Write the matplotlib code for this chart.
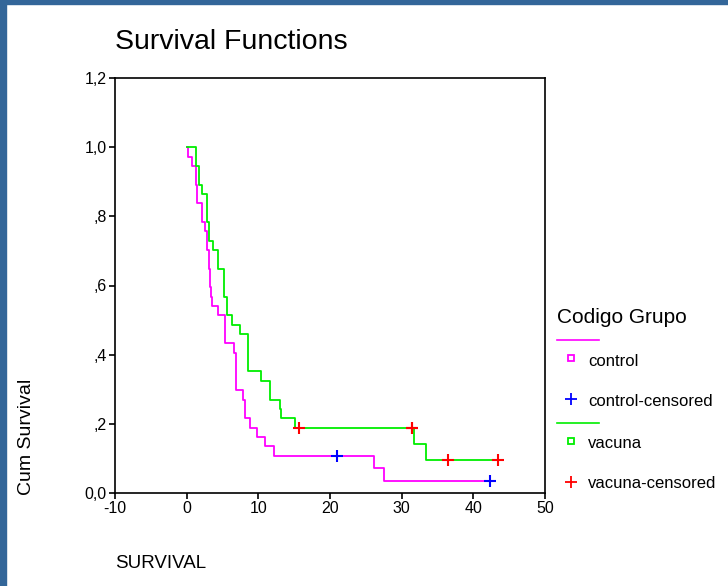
import numpy as np
import matplotlib.pyplot as plt
from matplotlib.lines import Line2D
from matplotlib.patches import Rectangle

plt.rcParams['font.family'] = ['Liberation Sans', 'DejaVu Sans']
plt.rcParams['axes.unicode_minus'] = False

## data: event times (ties repeated), censored times
control_deaths = [0.2, 0.8, 1.3, 1.3, 1.5, 1.5, 2.1, 2.1, 2.5, 2.8, 2.8,
                  3.1, 3.1, 3.3, 3.3, 3.4, 3.5, 4.4, 5.3, 5.3, 5.3, 6.6,
                  6.9, 6.9, 6.9, 6.9, 7.9, 8.2, 8.2, 8.9, 9.8, 10.9, 12.2,
                  26.2, 27.5]
control_censored = [21.0, 42.3]

vacuna_deaths = [1.3, 1.3, 1.7, 1.7, 2.1, 2.8, 2.8, 2.8, 3.1, 3.1, 3.7,
                 4.4, 4.4, 5.2, 5.2, 5.2, 5.6, 5.6, 6.3, 7.4, 8.6, 8.6,
                 8.6, 8.6, 10.4, 11.6, 11.6, 13.0, 13.2, 15.1, 31.7, 33.4]
vacuna_censored = [15.7, 31.5, 31.5, 36.4, 43.4]

x_ticks = [-10, 0, 10, 20, 30, 40, 50]
y_ticks = [0.0, 0.2, 0.4, 0.6, 0.8, 1.0, 1.2]
y_ticklabels = ['0,0', ',2', ',4', ',6', ',8', '1,0', '1,2']


def km(deaths, censored):
    deaths = np.array(deaths)
    censored = np.array(censored)
    n = len(deaths) + len(censored)
    t_out, s_out = [0.0], [1.0]
    s = 1.0
    for t in np.unique(deaths):
        at_risk = n - np.sum(deaths < t) - np.sum(censored < t)
        s *= 1 - np.sum(deaths == t) / at_risk
        t_out.append(t)
        s_out.append(s)
    t_out.append(max(deaths.max(), censored.max()))
    s_out.append(s)
    return np.array(t_out), np.array(s_out)


def surv_at(t_km, s_km, t):
    idx = np.searchsorted(t_km, t, side='right') - 1
    return s_km[idx]


W, H = 728, 586
fx = lambda x: x / W
fy = lambda y: 1 - y / H

fig = plt.figure(figsize=(W / 100, H / 100), dpi=100)
fig.patches.append(Rectangle((0, 0), fx(6), 1, transform=fig.transFigure,
                             color='#336699', zorder=0))
fig.patches.append(Rectangle((0, fy(4)), 1, 4 / H, transform=fig.transFigure,
                             color='#336699', zorder=0))

ax = fig.add_axes([fx(115), fy(493), fx(545) - fx(115), fy(78) - fy(493)])

groups = [
    (control_deaths, control_censored, '#FF00FF', '#0000FF'),
    (vacuna_deaths, vacuna_censored, '#00EE00', '#FF0000'),
]
for deaths, cens, col, ccol in groups:
    t_km, s_km = km(deaths, cens)
    ax.step(t_km, s_km, where='post', color=col, lw=1.3, zorder=2)
    ax.plot(cens, surv_at(t_km, s_km, np.array(cens)), '+', color=ccol,
            ms=9, mew=1.5, zorder=3)

ax.set_xlim(-10, 50)
ax.set_ylim(0, 1.2)
ax.set_xticks(x_ticks)
ax.set_yticks(y_ticks)
ax.set_yticklabels(y_ticklabels)
ax.tick_params(direction='out', length=4, width=1.2, labelsize=11.5, pad=2)
for sp in ax.spines.values():
    sp.set_linewidth(1.2)

fig.text(fx(115), fy(42), 'Survival Functions', fontsize=20.5, va='center', ha='left')
fig.text(fx(27), fy(437), 'Cum Survival', fontsize=14, rotation=90, va='center', ha='center')
fig.text(fx(115), fy(563), 'SURVIVAL', fontsize=13.5, va='center', ha='left')

# legend drawn by hand
fig.text(fx(557), fy(323), 'Codigo Grupo', fontsize=15, va='baseline', ha='left')
fig.lines.append(Line2D([fx(557), fx(599)], [fy(340), fy(340)], color='#FF00FF',
                        lw=1.2, transform=fig.transFigure))
fig.lines.append(Line2D([fx(557), fx(599)], [fy(423), fy(423)], color='#00EE00',
                        lw=1.2, transform=fig.transFigure))
entries = [
    ('control', 's', '#FF00FF', 358, 366),
    ('control-censored', '+', '#0000FF', 399, 406),
    ('vacuna', 's', '#00EE00', 441, 448),
    ('vacuna-censored', '+', '#FF0000', 482, 488),
]
for label, mk, col, ym, yb in entries:
    if mk == 's':
        fig.lines.append(Line2D([fx(571)], [fy(ym)], marker='s', ms=4.5, mfc='none',
                                mec=col, mew=1.3, transform=fig.transFigure))
    else:
        fig.lines.append(Line2D([fx(571)], [fy(ym)], marker='+', ms=8, mec=col,
                                mew=1.3, transform=fig.transFigure))
    fig.text(fx(588), fy(yb), label, fontsize=12, va='baseline', ha='left')

plt.savefig('out.png', dpi=100)
